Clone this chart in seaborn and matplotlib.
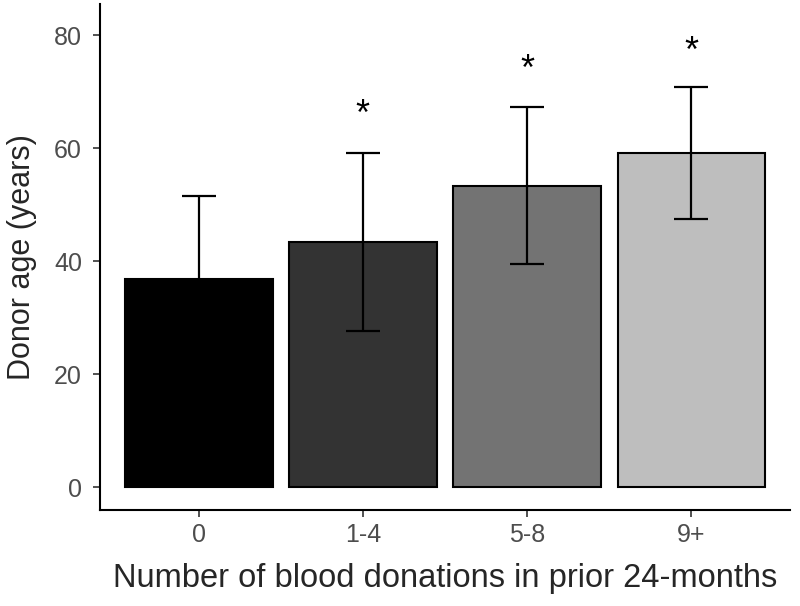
import matplotlib
matplotlib.use('Agg')
import matplotlib.pyplot as plt
import seaborn as sns
import pandas as pd

# values
categories = ['0', '1-4', '5-8', '9+']
mean_age = [36.8, 43.4, 53.4, 59.1]
sd_age = [14.7, 15.8, 13.9, 11.7]
star_y = [None, 62.8, 70.7, 73.9]
bar_colors = ['#000000', '#333333', '#737373', '#bebebe']

df = pd.DataFrame({'group': categories, 'age': mean_age})

sns.set_theme(style='white')
plt.rcParams['font.family'] = ['Liberation Sans', 'DejaVu Sans']

fig = plt.figure(figsize=(8, 6.06), dpi=100)
ax = fig.add_axes([0.125, 0.158, 0.8625, 0.835])

sns.barplot(data=df, x='group', y='age', hue='group', palette=bar_colors,
            order=categories, width=0.9, edgecolor='black', linewidth=1.5,
            legend=False, ax=ax, zorder=2)

ax.errorbar(range(len(categories)), mean_age, yerr=sd_age, fmt='none',
            ecolor='black', elinewidth=1.6, capsize=12, capthick=1.6, zorder=3)

for i, y in enumerate(star_y):
    if y is not None:
        ax.text(i, y, '*', ha='center', va='bottom', fontsize=26, color='black')

ax.set_xlim(-0.6, 3.6)
ax.set_ylim(-4.07, 85.5)
ax.set_yticks([0, 20, 40, 60, 80])
ax.set_xlabel('Number of blood donations in prior 24-months', fontsize=23.5, labelpad=12)
ax.set_ylabel('Donor age (years)', fontsize=22, labelpad=12)
ax.tick_params(axis='x', labelsize=18, labelcolor='#4d4d4d', length=5,
               width=1.2, color='#333333', direction='out', bottom=True, pad=4)
ax.tick_params(axis='y', labelsize=18, labelcolor='#4d4d4d', length=5,
               width=1.2, color='#333333', direction='out', left=True, pad=8)

sns.despine(ax=ax)
for side in ['left', 'bottom']:
    ax.spines[side].set_linewidth(1.5)
    ax.spines[side].set_color('black')

fig.savefig('out.png', dpi=100)
